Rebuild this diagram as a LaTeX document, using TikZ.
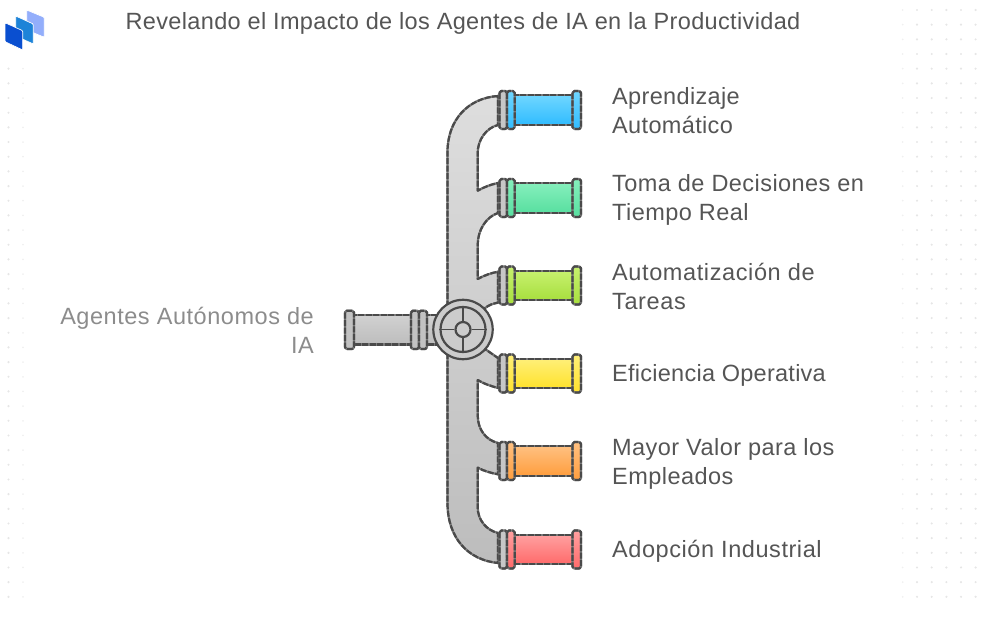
\documentclass[tikz,border=0pt]{standalone}
\usepackage{fontspec}
\setmainfont{Liberation Sans}[LetterSpace=1.5]
\usepackage{tikz}
\definecolor{inktext}{HTML}{555555}
\definecolor{inkpale}{HTML}{8C8C8C}
\definecolor{inkpipe}{HTML}{4A4A4A}
\definecolor{inkgap}{HTML}{7A7A7A}
\definecolor{dotgrey}{HTML}{E6E6E6}
\definecolor{bluetop}{HTML}{6FD6FF}\definecolor{bluebot}{HTML}{30BCFF}
\definecolor{minttop}{HTML}{85EFBC}\definecolor{mintbot}{HTML}{58DFA0}
\definecolor{limetop}{HTML}{C6F06E}\definecolor{limebot}{HTML}{A8DF3E}
\definecolor{yelltop}{HTML}{FFEF78}\definecolor{yellbot}{HTML}{FFE22C}
\definecolor{orantop}{HTML}{FFC080}\definecolor{oranbot}{HTML}{FF9E3E}
\definecolor{redtop}{HTML}{FFA0A0}\definecolor{redbot}{HTML}{FF6A6A}
\definecolor{logoa}{HTML}{0A4FD0}\definecolor{logob}{HTML}{1D83D8}\definecolor{logoc}{HTML}{93AEFB}
\tikzset{
	pipeline/.style={draw=inkgap,line width=2.2pt,line join=round,postaction={draw=inkpipe,dash pattern=on 6pt off 1.5pt}},
	flange/.style={pipeline,rounded corners=1.8pt},
	logopart/.style={draw=white,line width=0.7pt,rounded corners=1pt},
	label/.style={text=inktext,font=\fontsize{23.5}{29}\selectfont,align=left,anchor=west,inner sep=0pt},
	spread/.style={font=\fontsize{23.5}{29}\selectfont\addfontfeature{LetterSpace=#1}},
	valvering/.style={circle,draw=inkpipe,line width=2.2pt,inner sep=0pt,fill=#1}
}
\begin{document}
\begin{tikzpicture}[x=1pt,y=-1pt]
	\useasboundingbox (0,0) rectangle (987,620);
	% dot grid
	\foreach \k in {0,...,36}{
		\fill[dotgrey] (8.5,68.7+14.67*\k) circle (1.2pt);
		\fill[dotgrey!60] (23,68.7+14.67*\k) circle (1pt);
	}
	\foreach \k in {0,...,40}{
		\fill[dotgrey!60] (902.7,10+14.67*\k) circle (1pt);
		\foreach \c in {917,931.7,946.4,961,975.6}{
			\fill[dotgrey] (\c,10+14.67*\k) circle (1.2pt);
		}
	}
	% logo
	\fill[logopart,fill=logoc] (26.7,10) -- (44.3,17.3) -- (44.3,37.3) -- (26.7,30) -- cycle;
	\fill[logopart,fill=logob] (15.7,16) -- (33.3,24) -- (33.3,44) -- (15.7,36) -- cycle;
	\fill[logopart,fill=logoa] (5,22.7) -- (22.7,30.7) -- (22.7,50) -- (5,41.7) -- cycle;
	% main pipe
	\path[pipeline,top color=black!13,bottom color=black!26]
		(498,96) .. controls (468,98) and (447.5,120) .. (447.5,152)
		-- (447.5,503) .. controls (447.5,538) and (468,560) .. (498,563)
		-- (498,533) .. controls (486,530) and (477.7,520) .. (477.7,507)
		-- (477.7,467.7) .. controls (484,471) and (491,473) .. (498,474.3)
		-- (498,443) .. controls (486,440) and (477.7,430) .. (477.7,415)
		-- (477.7,380) .. controls (484,384) and (491,386) .. (498,388)
		-- (498,358) -- (485,349) -- (485,308) .. controls (489,305) and (493,303.5) .. (498,302.7)
		-- (498,271.7) .. controls (491,273) and (484,275.5) .. (477.7,279)
		-- (477.7,245) .. controls (477.7,230) and (486,217) .. (498,213)
		-- (498,183) .. controls (491,184.5) and (484,187) .. (477.7,190.7)
		-- (477.7,153) .. controls (477.7,140) and (486,128) .. (498,125)
		-- cycle;
	% outlet pipes
	\foreach \rowy/\coltop/\colbot in {110/bluetop/bluebot,198/minttop/mintbot,285.5/limetop/limebot,373.5/yelltop/yellbot,461/orantop/oranbot,549.5/redtop/redbot}{
		\path[pipeline,top color=\coltop,bottom color=\colbot] (514,\rowy-14.8) rectangle (573,\rowy+14.8);
		\path[flange,top color=\coltop,bottom color=\colbot] (572.5,\rowy-19) rectangle (581,\rowy+19);
		\path[flange,fill=black!22] (499.5,\rowy-19) rectangle (507,\rowy+19);
		\path[flange,top color=\coltop,bottom color=\colbot] (507,\rowy-19) rectangle (514.7,\rowy+19);
	}
	% inlet pipe
	\path[pipeline,top color=black!18,bottom color=black!26] (354,315) rectangle (412,344.5);
	\path[pipeline,top color=black!18,bottom color=black!26] (427,315) rectangle (440,344.5);
	\path[flange,fill=black!24] (345,310.7) rectangle (354,349);
	\path[flange,fill=black!24] (411,310.7) rectangle (419,349);
	\path[flange,fill=black!24] (419,310.7) rectangle (427,349);
	% valve
	\node[valvering=black!20,minimum size=59.4pt] (valve) at (463,329.5) {};
	\node[valvering=black!20,minimum size=45pt] (wheel) at (valve) {};
	\node[valvering=black!20,minimum size=15pt] (hub) at (valve) {};
	\draw[draw=inkpipe,line width=1.7pt] (hub.north) -- (wheel.north) (hub.south) -- (wheel.south)
		(hub.west) -- (wheel.west) (hub.east) -- (wheel.east);
	% labels
	\node[text=inktext,font=\fontsize{23.5}{29}\selectfont,inner sep=0pt] (title) at (463,23.5) {Revelando el Impacto de los Agentes de IA en la Productividad};
	\node[label,spread=2.3,text=inkpale,align=right,anchor=east] (source) at (314,330) {Agentes Autónomos de\\IA};
	\node[label] (aprendizaje) at (612,110.5) {Aprendizaje\\Automático};
	\node[label,spread=1.9] (decisiones) at (612,199.5) {Toma de Decisiones en\\Tiempo Real};
	\node[label,spread=2.6] (tareas) at (612,286.5) {Automatización de\\Tareas};
	\node[label,spread=1.1] (eficiencia) at (612,375.5) {Eficiencia Operativa};
	\node[label,spread=1.9] (valor) at (612,463.5) {Mayor Valor para los\\Empleados};
	\node[label,spread=2.4] (adopcion) at (612,551.5) {Adopción Industrial};
\end{tikzpicture}
\end{document}
